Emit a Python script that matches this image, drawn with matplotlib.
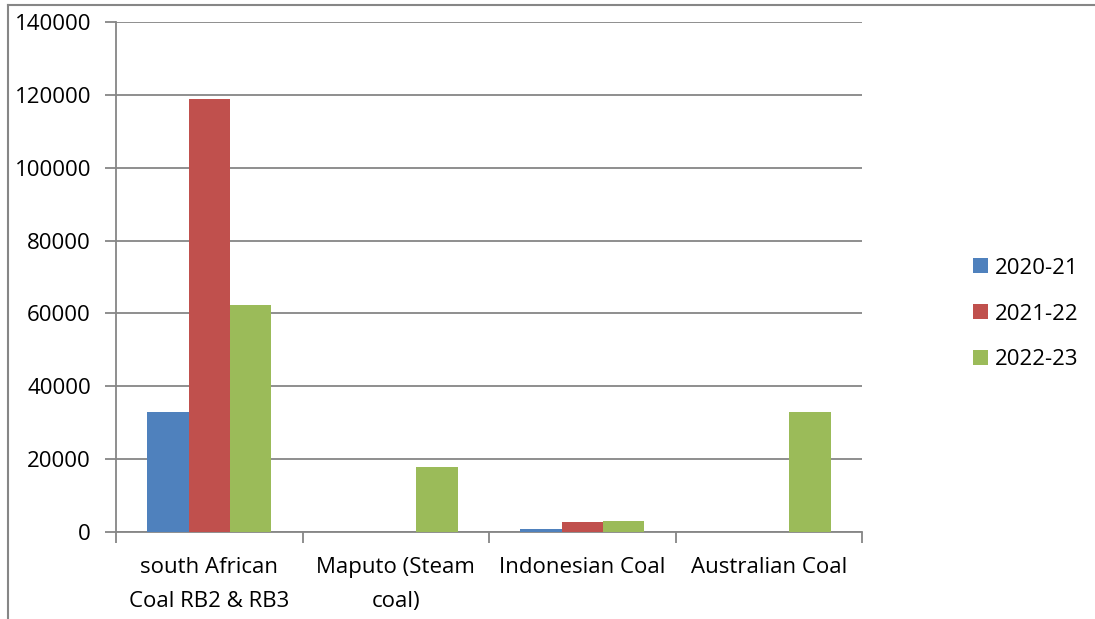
import matplotlib
matplotlib.use("Agg")
import matplotlib.pyplot as plt
import numpy as np
from matplotlib.lines import Line2D

categories = ["south African\nCoal RB2 & RB3", "Maputo (Steam\ncoal)", "Indonesian Coal", "Australian Coal"]
series_names = ["2020-21", "2021-22", "2022-23"]
v2020 = [33000, 0, 800, 0]
v2021 = [118900, 0, 2800, 0]
v2022 = [62300, 17900, 3000, 32900]
yticks = [0, 20000, 40000, 60000, 80000, 100000, 120000, 140000]
colors = ["#4F81BD", "#C0504D", "#9BBB59"]

plt.rcParams['font.family'] = ['Open Sans', 'DejaVu Sans']

fig = plt.figure(figsize=(10.95, 6.19), dpi=100)
ax = fig.add_axes([116/1095, 1-532/619, (862-116)/1095, (532-22)/619])

x = np.arange(len(categories))
w = 0.6667/3
for i, (vals, name) in enumerate(zip([v2020, v2021, v2022], series_names)):
    ax.bar(x + (i-1)*w, vals, width=w, color=colors[i], label=name, zorder=3)

ax.set_xlim(-0.5, len(categories)-0.5)
ax.set_ylim(0, 140000)
ax.set_yticks(yticks)
ax.set_yticklabels([str(t) for t in yticks], fontsize=16)
ax.set_xticks(x)
ax.set_xticklabels(categories, fontsize=16, linespacing=1.8)
ax.tick_params(axis='x', length=0, pad=18)
ax.set_xticks(np.arange(-0.5, len(categories), 1), minor=True)
ax.tick_params(axis='x', which='minor', length=8, color='#868686', width=1.3)
ax.tick_params(axis='y', length=8, color='#868686', width=1.3, pad=10)
ax.yaxis.grid(True, color='#868686', linewidth=1.3, zorder=0)
ax.set_axisbelow(True)
for s in ['top', 'right']:
    ax.spines[s].set_visible(False)
for s in ['left', 'bottom']:
    ax.spines[s].set_color('#868686')
    ax.spines[s].set_linewidth(1.3)

leg = fig.legend(loc='center left', bbox_to_anchor=(953/1095, 1-314/619), frameon=False,
                 fontsize=16, handlelength=0.68, handleheight=0.68, handletextpad=0.32,
                 labelspacing=1.12)

fig.add_artist(Line2D([8/1095, 8/1095], [0, 1-5/619], transform=fig.transFigure, color='#868686', linewidth=1.5))
fig.add_artist(Line2D([8/1095, 1], [1-5/619, 1-5/619], transform=fig.transFigure, color='#868686', linewidth=1.5))

fig.savefig("out.png", dpi=100)
